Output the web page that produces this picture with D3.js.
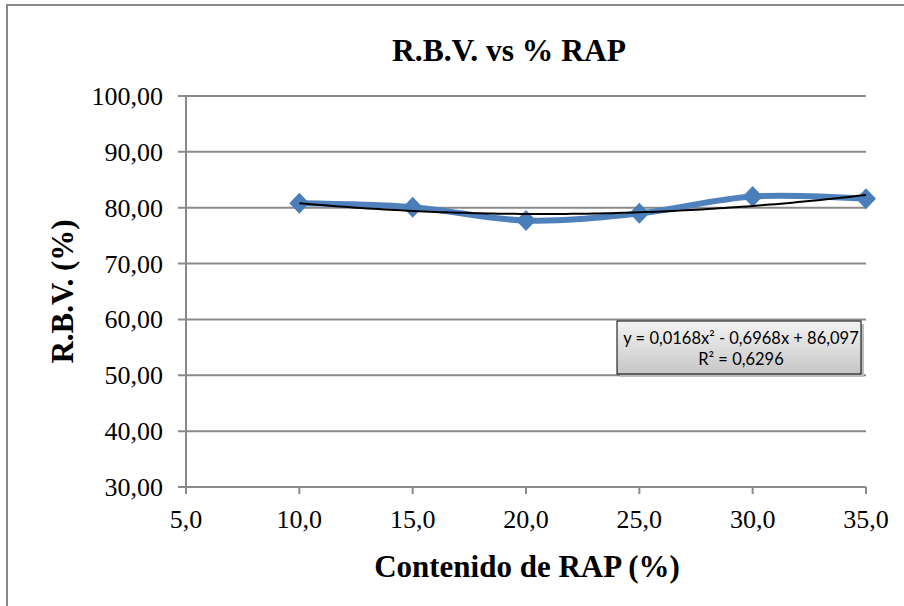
<!DOCTYPE html>
<html><head><meta charset="utf-8">
<script src="https://cdn.jsdelivr.net/npm/d3@7"></script>
<style>body{margin:0;background:#fff}svg{display:block}</style>
</head><body>
<svg id="c" width="904" height="606"></svg>
<script>
const xValues = [10, 15, 20, 25, 30, 35];
const rbvValues = [80.8, 80.1, 77.7, 79.0, 82.0, 81.6];
const xTicks = [5, 10, 15, 20, 25, 30, 35];
const yTicks = [30, 40, 50, 60, 70, 80, 90, 100];
const trendCoef = [0.0168, -0.6968, 86.097];
const titleText = "R.B.V. vs % RAP";
const xTitle = "Contenido de RAP (%)";
const yTitle = "R.B.V. (%)";
const eqLines = ["y = 0,0168x² - 0,6968x + 86,097", "R² = 0,6296"];

const svg = d3.select("#c");
const serif = "'Liberation Serif','Times New Roman',serif";
const x = d3.scaleLinear().domain([5, 35]).range([186, 866]);
const y = d3.scaleLinear().domain([30, 100]).range([487, 96]);
const fmt = (d, n) => d.toFixed(n).replace(".", ",");

// outer border
svg.append("rect").attr("x", 7).attr("y", 5).attr("width", 1000).attr("height", 1000)
  .attr("fill", "none").attr("stroke", "#898989").attr("stroke-width", 2);

// gridlines
svg.append("g").selectAll("line").data(yTicks).join("line")
  .attr("x1", x(5) - 8).attr("x2", x(35)).attr("y1", d => y(d)).attr("y2", d => y(d))
  .attr("stroke", "#8a8a8a").attr("stroke-width", 2);
// y axis line
svg.append("line").attr("x1", x(5)).attr("x2", x(5)).attr("y1", y(100)).attr("y2", y(30) + 7)
  .attr("stroke", "#8a8a8a").attr("stroke-width", 2);
// x ticks
svg.append("g").selectAll("line").data(xTicks.slice(1)).join("line")
  .attr("x1", d => x(d)).attr("x2", d => x(d)).attr("y1", y(30)).attr("y2", y(30) + 7)
  .attr("stroke", "#8a8a8a").attr("stroke-width", 2);

// tick labels
svg.append("g").selectAll("text").data(yTicks).join("text")
  .attr("x", 163).attr("y", d => y(d) + 9).attr("text-anchor", "end")
  .attr("font-family", serif).attr("font-size", 26).text(d => fmt(d, 2));
svg.append("g").selectAll("text").data(xTicks).join("text")
  .attr("x", d => x(d)).attr("y", 528).attr("text-anchor", "middle")
  .attr("font-family", serif).attr("font-size", 26).text(d => fmt(d, 1));

// titles
svg.append("text").attr("x", 509).attr("y", 61).attr("text-anchor", "middle")
  .attr("font-family", serif).attr("font-weight", "bold").attr("font-size", 31.5).text(titleText);
svg.append("text").attr("x", 527).attr("y", 577).attr("text-anchor", "middle")
  .attr("font-family", serif).attr("font-weight", "bold").attr("font-size", 31).text(xTitle);
svg.append("text").attr("transform", `translate(73,${(y(30) + y(100)) / 2}) rotate(-90)`)
  .attr("text-anchor", "middle")
  .attr("font-family", serif).attr("font-weight", "bold").attr("font-size", 31).text(yTitle);

// series
const pts = xValues.map((v, i) => [v, rbvValues[i]]);
svg.append("path").datum(pts)
  .attr("d", d3.line().x(d => x(d[0])).y(d => y(d[1])).curve(d3.curveCatmullRom.alpha(0.5)))
  .attr("fill", "none").attr("stroke", "#4f81bd").attr("stroke-width", 6);
svg.append("g").selectAll("path").data(pts).join("path")
  .attr("transform", d => `translate(${x(d[0])},${y(d[1])})`)
  .attr("d", "M0,-10.5L10,0L0,10.5L-10,0Z").attr("fill", "#4a7ebb");

// trendline
const tr = d3.range(10, 35.01, 0.25).map(v => [v, trendCoef[0] * v * v + trendCoef[1] * v + trendCoef[2]]);
svg.append("path").datum(tr)
  .attr("d", d3.line().x(d => x(d[0])).y(d => y(d[1])))
  .attr("fill", "none").attr("stroke", "#000").attr("stroke-width", 2);

// equation box
const defs = svg.append("defs");
const g = defs.append("linearGradient").attr("id", "gr").attr("x1", 0).attr("x2", 0).attr("y1", 0).attr("y2", 1);
g.append("stop").attr("offset", 0).attr("stop-color", "#f4f4f4");
g.append("stop").attr("offset", 1).attr("stop-color", "#c6c6c6");
svg.append("rect").attr("x", 620).attr("y", 324).attr("width", 244).attr("height", 53).attr("fill", "#bcbcbc");
svg.append("rect").attr("x", 617).attr("y", 321).attr("width", 244).attr("height", 53)
  .attr("fill", "url(#gr)").attr("stroke", "#000").attr("stroke-width", 1);
svg.append("g").selectAll("text").data(eqLines).join("text")
  .attr("x", 741).attr("y", (d, i) => 344 + i * 21).attr("text-anchor", "middle")
  .attr("font-family", "Lato,'Open Sans',sans-serif").attr("font-size", 16.5).text(d => d);
</script>
</body></html>
